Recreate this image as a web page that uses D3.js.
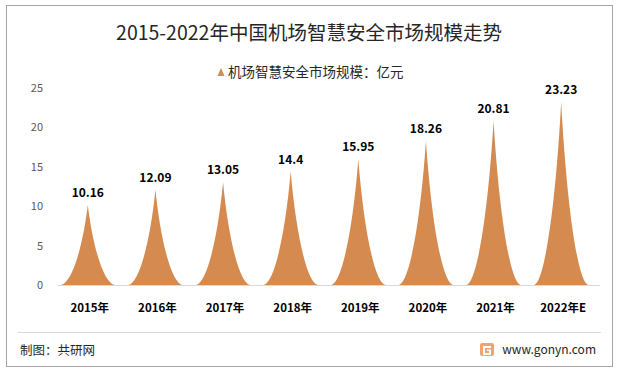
<!DOCTYPE html>
<html>
<head>
<meta charset="utf-8">
<script src="https://cdn.jsdelivr.net/npm/d3@7"></script>
<style>
  body { margin: 0; background: #fff; }
  svg { display: block; font-family: "Noto Sans CJK SC", "Microsoft YaHei", sans-serif; }
</style>
</head>
<body>
<svg id="chart" width="623" height="374"></svg>
<script>
var years = ["2015年", "2016年", "2017年", "2018年", "2019年", "2020年", "2021年", "2022年E"]
var values = [10.16, 12.09, 13.05, 14.4, 15.95, 18.26, 20.81, 23.23]
var yTicks = [0, 5, 10, 15, 20, 25]

var svg = d3.select("#chart")

// outer frame
svg.append("rect")
    .attr("x", 6.5).attr("y", 5.5)
    .attr("width", 606).attr("height", 361)
    .attr("fill", "#fff")
    .attr("stroke", "#a6a6a6")

svg.append("text")
    .attr("x", 309).attr("y", 40)
    .attr("text-anchor", "middle")
    .style("font-size", "19.5px")
    .style("fill", "#262626")
    .text("2015-2022年中国机场智慧安全市场规模走势")

// legend
var legend = svg.append("g").attr("transform", "translate(221,72)")
legend.append("path")
    .attr("d", "M-3.5,4 L0,-4 L3.5,4 Z")
    .attr("fill", "#d58b4f")
legend.append("text")
    .attr("x", 7).attr("y", 4.5)
    .style("font-size", "13.5px")
    .style("fill", "#262626")
    .text("机场智慧安全市场规模：亿元")

var x = d3.scaleBand()
    .domain(years)
    .range([55, 596])

var y = d3.scaleLinear()
    .domain([0, 25])
    .range([285, 88])

// y axis labels
svg.append("g")
    .selectAll("text")
    .data(yTicks)
    .enter()
    .append("text")
    .attr("x", 43)
    .attr("y", d => y(d) + 4)
    .attr("text-anchor", "end")
    .style("font-size", "11px")
    .style("fill", "#595959")
    .text(d => d)

// baseline
svg.append("line")
    .attr("x1", 58).attr("x2", 600)
    .attr("y1", y(0) + 0.5).attr("y2", y(0) + 0.5)
    .attr("stroke", "#d9d9d9")

// pointed spikes
var half = 27
function spike(d, i) {
    var cx = x(years[i]) + x.bandwidth() / 2 - 1
    var top = y(d), base = y(0)
    var h = base - top
    return "M" + (cx - half) + "," + base +
        " C" + (cx - half * 0.6) + "," + (base - h * 0.02) + " " + (cx - half * 0.2) + "," + (base - h * 0.45) + " " + cx + "," + top +
        " C" + (cx + half * 0.2) + "," + (base - h * 0.45) + " " + (cx + half * 0.6) + "," + (base - h * 0.02) + " " + (cx + half) + "," + base + " Z"
}

svg.append("g")
    .selectAll("path")
    .data(values)
    .enter()
    .append("path")
    .attr("d", spike)
    .attr("fill", "#d58b4f")

// value labels
svg.append("g")
    .selectAll("text")
    .data(values)
    .enter()
    .append("text")
    .attr("x", (d, i) => x(years[i]) + x.bandwidth() / 2 - 1)
    .attr("y", d => y(d) - 8)
    .attr("text-anchor", "middle")
    .style("font-size", "12px")
    .style("font-weight", "bold")
    .style("fill", "#000")
    .text(d => d)

// category labels
svg.append("g")
    .selectAll("text")
    .data(years)
    .enter()
    .append("text")
    .attr("x", d => x(d) + x.bandwidth() / 2 + 1)
    .attr("y", 312)
    .attr("text-anchor", "middle")
    .style("font-size", "11.5px")
    .style("font-weight", "bold")
    .style("fill", "#000")
    .text(d => d)

// footer
svg.append("line")
    .attr("x1", 18).attr("x2", 601)
    .attr("y1", 332.5).attr("y2", 332.5)
    .attr("stroke", "#d9d9d9")

svg.append("text")
    .attr("x", 20).attr("y", 355)
    .style("font-size", "12.5px")
    .style("fill", "#262626")
    .text("制图：共研网")

var logo = svg.append("g").attr("transform", "translate(480,343)")
logo.append("rect").attr("width", 14).attr("height", 13).attr("rx", 2).attr("fill", "#f2a36b")
logo.append("path").attr("d", "M3,3 H11 V5 H5 V10 H9 V8 H7 V6.5 H11 V12 H3 Z").attr("fill", "#fff")

svg.append("text")
    .attr("x", 596).attr("y", 354)
    .attr("text-anchor", "end")
    .style("font-size", "12px")
    .style("fill", "#262626")
    .text("www.gonyn.com")
</script>
</body>
</html>
